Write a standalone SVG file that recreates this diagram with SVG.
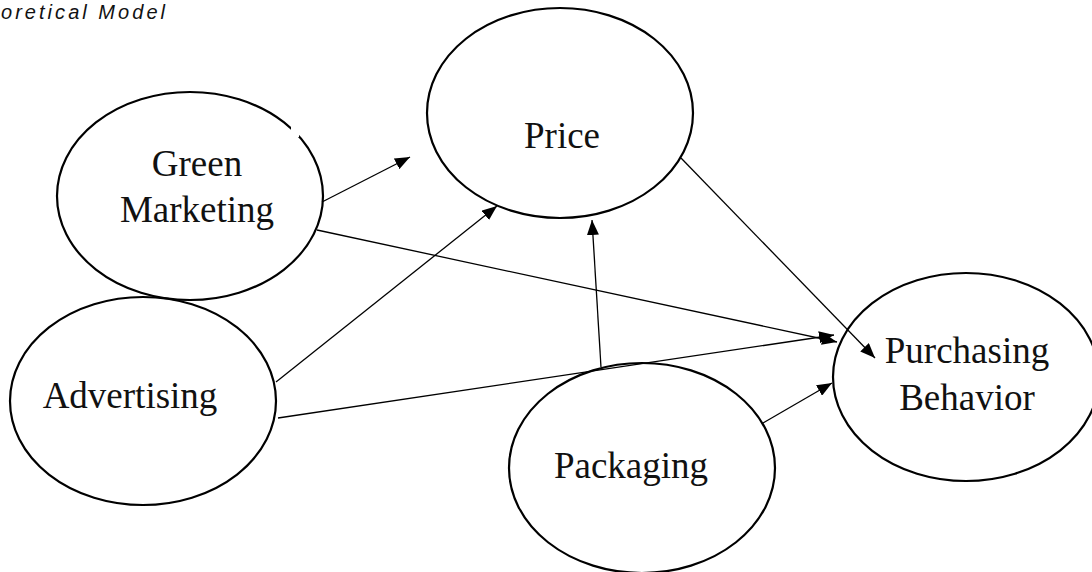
<svg xmlns="http://www.w3.org/2000/svg" width="1092" height="572" viewBox="0 0 1092 572">
<style>
.node ellipse{fill:none;stroke:#000;stroke-width:2.2}
.lbl{font-family:"Liberation Serif","Times New Roman",serif;font-size:37px;fill:#111;text-anchor:middle}
.conn line{stroke:#000;stroke-width:1.3;marker-end:url(#ah)}
.title{font-family:"Liberation Sans",Arial,sans-serif;font-style:italic;font-size:20px;fill:#111}
</style>
<defs>
<marker id="ah" markerUnits="userSpaceOnUse" markerWidth="15" markerHeight="12" refX="15" refY="6" orient="auto" viewBox="0 0 15 12">
<path d="M0,0 L15,6 L0,12 z" fill="#000"/>
</marker>
</defs>
<rect width="1092" height="572" fill="#fff"/>
<text class="title" x="1" y="19" textLength="164" lengthAdjust="spacing">oretical Model</text>
<g id="green-marketing" class="node">
<ellipse cx="190" cy="196" rx="133" ry="104"/>
<rect x="291" y="127" width="8" height="10" fill="#fff"/>
<text class="lbl" x="197" y="176">Green</text>
<text class="lbl" x="197" y="222">Marketing</text>
</g>
<g id="advertising" class="node">
<ellipse cx="143" cy="401" rx="133" ry="104"/>
<text class="lbl" x="130" y="408">Advertising</text>
</g>
<g id="price" class="node">
<ellipse cx="560" cy="113" rx="133" ry="105"/>
<text class="lbl" x="562" y="148">Price</text>
</g>
<g id="packaging" class="node">
<ellipse cx="642" cy="468" rx="133" ry="105"/>
<text class="lbl" x="631" y="478">Packaging</text>
</g>
<g id="purchasing-behavior" class="node">
<ellipse cx="966" cy="377" rx="133" ry="104"/>
<text class="lbl" x="967" y="363">Purchasing</text>
<text class="lbl" x="967" y="410">Behavior</text>
</g>
<g id="connectors" class="conn">
<line x1="322" y1="202" x2="410" y2="157"/>
<line x1="317" y1="230" x2="837" y2="342"/>
<line x1="681" y1="158" x2="875" y2="358"/>
<line x1="276" y1="382" x2="497" y2="206"/>
<line x1="278" y1="418" x2="834" y2="335"/>
<line x1="601" y1="367" x2="592" y2="220"/>
<line x1="763" y1="423" x2="832" y2="383"/>
</g>
</svg>
